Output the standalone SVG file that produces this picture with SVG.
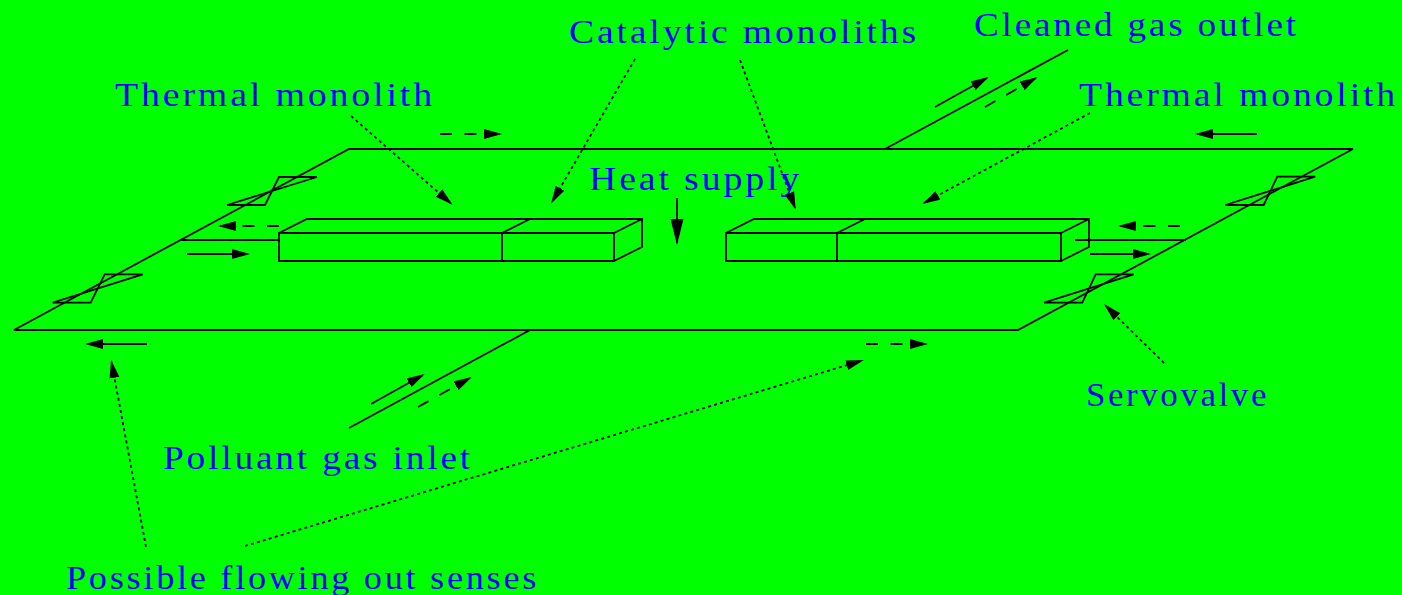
<svg xmlns="http://www.w3.org/2000/svg" width="1402" height="595" viewBox="0 0 1402 595">
<style>
.s{fill:none;stroke:#000;stroke-width:1.8;stroke-linejoin:miter}
.a{marker-end:url(#h)}
.d{stroke-dasharray:12 12.5}
.o{stroke-dasharray:3 3.2}
.t{font-family:"Liberation Serif","Times New Roman",serif;font-size:33px;letter-spacing:2.5px;fill:#0000ff}
</style>
<defs>
<marker id="h" markerUnits="userSpaceOnUse" markerWidth="20" markerHeight="12" refX="16" refY="5" orient="auto"><path d="M0 0L18 5L0 10Z" fill="#000"/></marker>
<marker id="H" markerUnits="userSpaceOnUse" markerWidth="28" markerHeight="14" refX="24" refY="6.5" orient="auto"><path d="M0 0L26 6.5L0 13Z" fill="#000"/></marker>
</defs>
<rect width="1402" height="595" fill="#00ff00"/>
<g id="plate"><path class="s" d="M14 330L349 149H1353L1018 330Z"/><path class="s" d="M885 149L1068 50M530 330L349 428M181 240H279M1075 240H1186"/></g>
<g id="valve-top-left"><path class="s" d="M279 177H317L227 205H265Z"/></g>
<g id="valve-bottom-left"><path class="s" d="M104.7 274.3H142.7L52.7 302.7H90.7Z"/></g>
<g id="valve-top-right"><path class="s" d="M1277.3 176.7H1315.3L1225.3 205H1263.7Z"/></g>
<g id="valve-bottom-right"><path class="s" d="M1095.7 274.3H1133.7L1044 302.7H1082.3Z"/></g>
<g id="monoliths-left"><path class="s" d="M279 233H614V261H279ZM502 233V261M279 233L307 219H642V247L614 261M614 233L642 219M502 233L530 219"/></g>
<g id="monoliths-right"><path class="s" d="M726 233H1061V261H726ZM837 233V261M726 233L754 219H1089V247L1061 261M1061 233L1089 219M837 233L865 219"/></g>
<g id="connectors">
<path class="s a" d="M187 254H248"/>
<path class="s a d" d="M279 226H220"/>
<path class="s a" d="M1090 254H1149"/>
<path class="s a d" d="M1180 226H1120"/>
<path class="s a" d="M147 344H87"/>
<path class="s a d" d="M866 344H926"/>
<path class="s a d" d="M440 134H500"/>
<path class="s a" d="M1257 134H1197"/>
<path class="s" d="M677 198V243" marker-end="url(#H)"/>
<path class="s a" d="M935 107L987 78"/>
<path class="s a d" d="M985 107L1036 78"/>
<path class="s a" d="M371 404L423 375"/>
<path class="s a d" d="M418 407L470 378"/>
<path class="s a o" d="M351 116L451 203.500"/>
<path class="s a o" d="M635 59L552 202"/>
<path class="s a o" d="M740 60L795 208"/>
<path class="s a o" d="M1090 113L924 203"/>
<path class="s a o" d="M1164 363L1105.500 305.500"/>
<path class="s a o" d="M146 547L111.500 362"/>
<path class="s a o" d="M245 546L862 360.600"/>
</g>
<g id="labels">
<text class="t" x="569" y="43" textLength="350" lengthAdjust="spacingAndGlyphs">Catalytic monoliths</text>
<text class="t" x="974" y="36" textLength="325" lengthAdjust="spacingAndGlyphs">Cleaned gas outlet</text>
<text class="t" x="115" y="106" textLength="320" lengthAdjust="spacingAndGlyphs">Thermal monolith</text>
<text class="t" x="1079" y="106" textLength="319" lengthAdjust="spacingAndGlyphs">Thermal monolith</text>
<text class="t" x="589" y="190" textLength="213" lengthAdjust="spacingAndGlyphs">Heat supply</text>
<text class="t" x="163" y="469" textLength="310" lengthAdjust="spacingAndGlyphs">Polluant gas inlet</text>
<text class="t" x="1086" y="406" textLength="183" lengthAdjust="spacingAndGlyphs">Servovalve</text>
<text class="t" x="66" y="589" textLength="473" lengthAdjust="spacingAndGlyphs">Possible flowing out senses</text>
</g>
</svg>
